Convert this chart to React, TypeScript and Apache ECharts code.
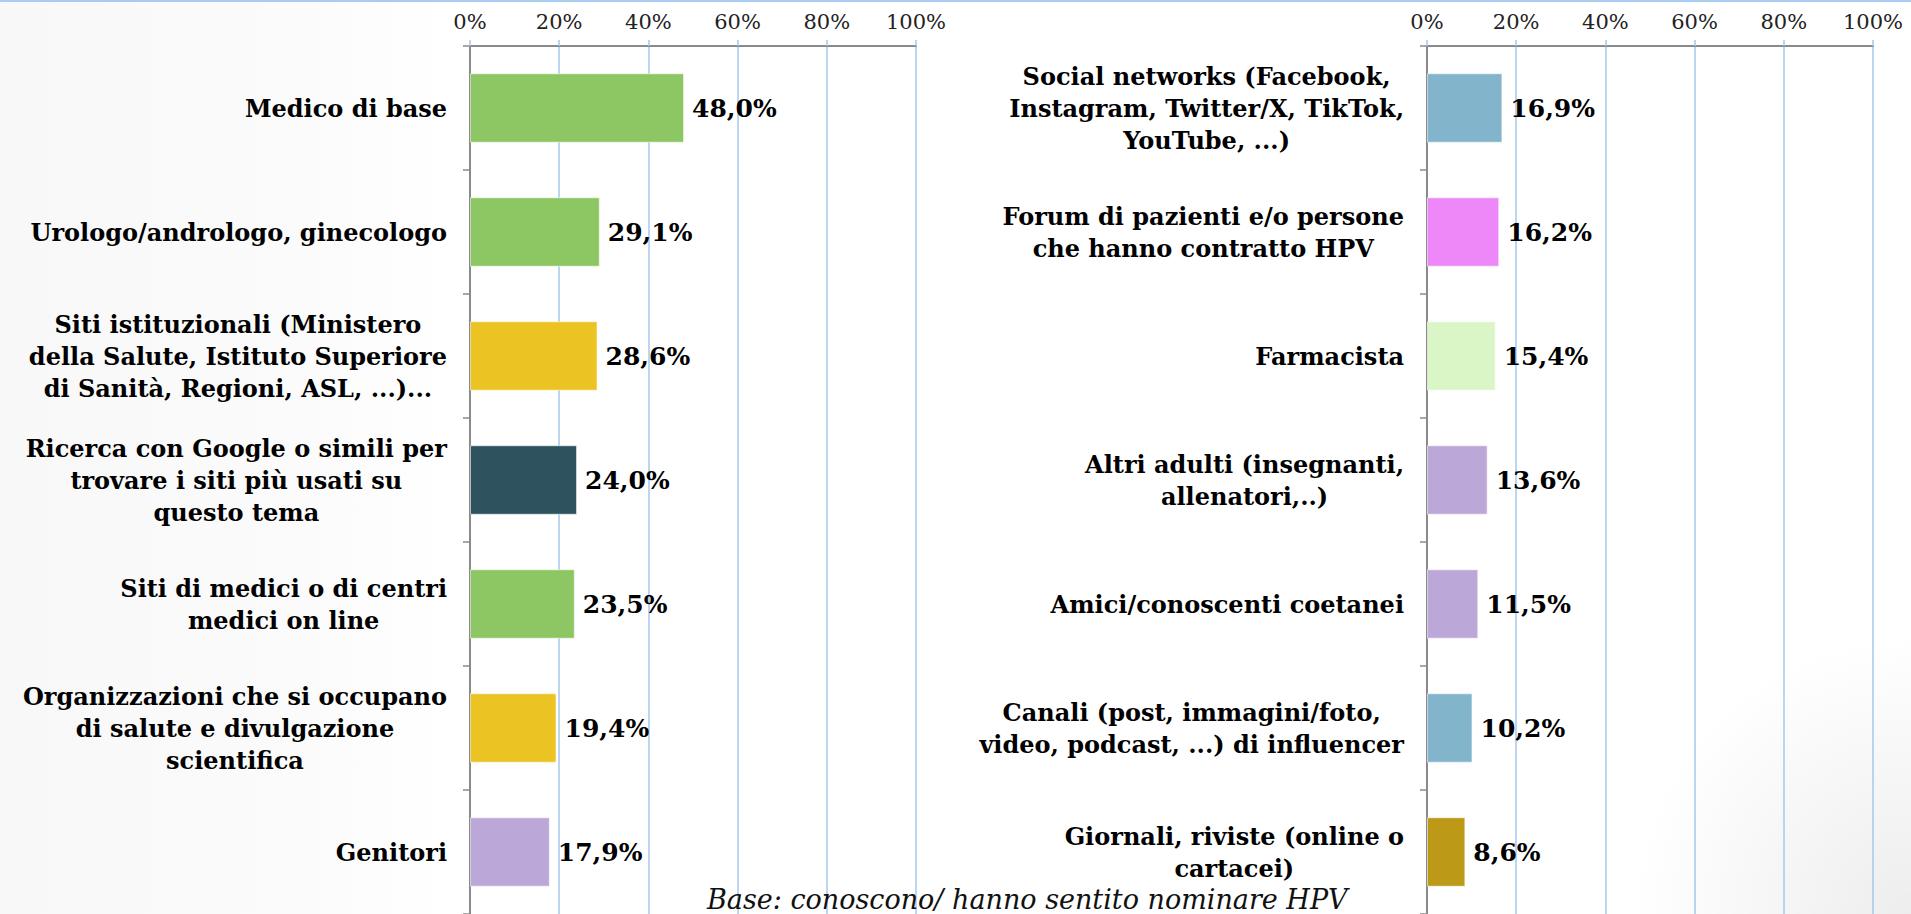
import React, { useEffect, useRef } from "react";
import * as echarts from "echarts";

const leftCategories = [
  "Medico di base",
  "Urologo/andrologo, ginecologo",
  "Siti istituzionali (Ministero\ndella Salute, Istituto Superiore\ndi Sanità, Regioni, ASL, ...)...",
  "Ricerca con Google o simili per\ntrovare i siti più usati su\nquesto tema",
  "Siti di medici o di centri\nmedici on line",
  "Organizzazioni che si occupano\ndi salute e divulgazione\nscientifica",
  "Genitori",
];
const leftValues = [48.0, 29.1, 28.6, 24.0, 23.5, 19.4, 17.9];

const rightCategories = [
  "Social networks (Facebook,\nInstagram, Twitter/X, TikTok,\nYouTube, ...)",
  "Forum di pazienti e/o persone\nche hanno contratto HPV",
  "Farmacista",
  "Altri adulti (insegnanti,\nallenatori,..)",
  "Amici/conoscenti coetanei",
  "Canali (post, immagini/foto,\nvideo, podcast, ...) di influencer",
  "Giornali, riviste (online o\ncartacei)",
];
const rightValues = [16.9, 16.2, 15.4, 13.6, 11.5, 10.2, 8.6];

const tickValues = [0, 20, 40, 60, 80, 100];
const footnote = "Base: conoscono/ hanno sentito nominare HPV";

// palette (styling)
const GREEN = "#8cc764";
const YELLOW = "#ebc322";
const TEAL = "#2f525f";
const LAVENDER = "#bba8d8";
const STEEL = "#82b5cc";
const PINK = "#ee88f8";
const PALEGREEN = "#daf6c7";
const GOLD = "#bc9a17";
const leftColors = [GREEN, GREEN, YELLOW, TEAL, GREEN, YELLOW, LAVENDER];
const rightColors = [STEEL, PINK, PALEGREEN, LAVENDER, LAVENDER, STEEL, GOLD];

const CAT_FONT = "'DejaVu Serif', serif";

export default function App() {
  const ref = useRef<HTMLDivElement>(null);

  useEffect(() => {
    if (!ref.current) return;
    const chart = echarts.init(ref.current, undefined, { renderer: "svg" });

    const grids = [
      { left: 470, top: 46, width: 446, height: 869 },
      { left: 1427, top: 46, width: 446, height: 869 },
    ];

    const xAxis = grids.map((_, i) => ({
      type: "value",
      gridIndex: i,
      position: "top",
      min: 0,
      max: 100,
      interval: 20,
      axisLine: { show: true, lineStyle: { color: "#8a8a8a", width: 2 } },
      axisTick: { show: true, length: 6, lineStyle: { color: "#a6c8ec", width: 1.5 } },
      splitLine: { show: true, lineStyle: { color: "#a6c8ec", width: 1.5 } },
      axisLabel: {
        margin: 14,
        color: "#222",
        fontFamily: CAT_FONT,
        fontSize: 21,
        formatter: (v: number) => (tickValues.includes(v) ? `${v}%` : ""),
      },
    }));

    const catFormatter = (v: string) =>
      v
        .split("\n")
        .map((l) => `{c|${l}}`)
        .join("\n");

    const yAxis = [leftCategories, rightCategories].map((cats, i) => ({
      type: "category",
      gridIndex: i,
      data: cats,
      inverse: true,
      axisLine: { show: true, lineStyle: { color: "#8a8a8a", width: 2 } },
      axisTick: { show: true, length: 7, lineStyle: { color: "#8a8a8a", width: 1.5 } },
      axisLabel: {
        margin: 23,
        formatter: catFormatter,
        rich: {
          c: {
            align: "center",
            fontFamily: CAT_FONT,
            fontWeight: "bold",
            fontSize: 24,
            lineHeight: 32,
            color: "#000",
          },
        },
      },
    }));

    const mkSeries = (vals: number[], colors: string[], i: number) => ({
      type: "bar",
      xAxisIndex: i,
      yAxisIndex: i,
      barWidth: "56%",
      data: vals.map((v, k) => ({ value: v, itemStyle: { color: colors[k] } })),
      itemStyle: { borderColor: "rgba(255,255,255,0.55)", borderWidth: 1 },
      label: {
        show: true,
        position: "right",
        distance: 8,
        fontFamily: CAT_FONT,
        fontWeight: "bold",
        fontSize: 25,
        color: "#000",
        formatter: (p: any) => `${Number(p.value).toFixed(1).replace(".", ",")}%`,
      },
    });

    chart.setOption({
      animation: false,
      backgroundColor: "transparent",
      grid: grids,
      xAxis,
      yAxis,
      series: [mkSeries(leftValues, leftColors, 0), mkSeries(rightValues, rightColors, 1)],
      graphic: [
        {
          type: "line",
          shape: { x1: 0, y1: 1, x2: 1911, y2: 1 },
          style: { stroke: "#a9ccf3", lineWidth: 2 },
        },
        {
          type: "text",
          left: 707,
          top: 886,
          z: 10,
          style: {
            text: footnote,
            fontFamily: CAT_FONT,
            fontStyle: "italic",
            fontSize: 27,
            fill: "#111",
          },
        },
      ],
    });

    return () => chart.dispose();
  }, []);

  return (
    <div
      style={{
        position: "absolute",
        left: 0,
        top: 0,
        width: 1911,
        height: 914,
        overflow: "hidden",
        background:
          "radial-gradient(circle at 100% 100%, rgba(0,0,0,0.07) 0px, rgba(0,0,0,0) 280px), linear-gradient(to right, #f8f8f8 0px, #fbfbfb 300px, #ffffff 450px)",
      }}
    >
      <div ref={ref} style={{ width: 1911, height: 914 }} />
    </div>
  );
}
